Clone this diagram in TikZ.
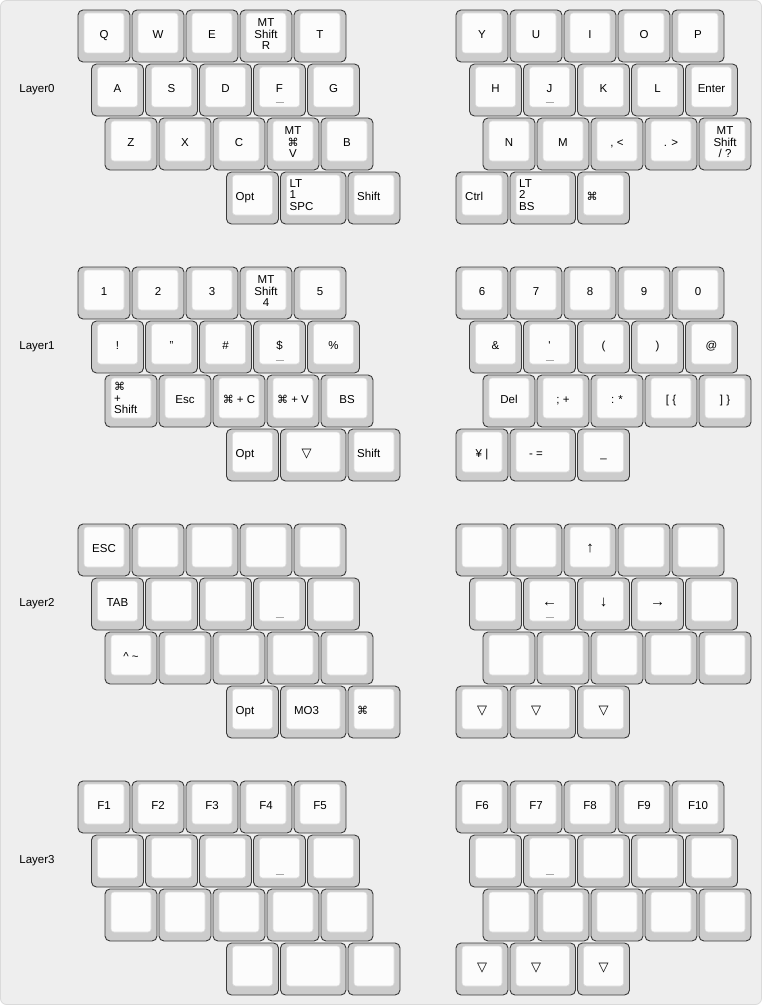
\documentclass[tikz,border=0pt]{standalone}
\usepackage{fontspec}
\setmainfont{Liberation Sans}
\newfontfamily\symfont{DejaVu Sans}
\usetikzlibrary{positioning}

\definecolor{board}{HTML}{EEEEEE}
\definecolor{boardedge}{HTML}{DADADA}
\definecolor{capside}{HTML}{CCCCCC}
\definecolor{capedge}{HTML}{3A3A3A}
\definecolor{captopfill}{HTML}{FCFCFC}
\definecolor{captopedge}{HTML}{DCDCDC}
\definecolor{nubgray}{HTML}{A8A8A8}

\newcommand\cmdkey{{\symfont\fontsize{11}{11.5}\selectfont ⌘}}
\newcommand\tri{{\symfont\fontsize{13}{11.5}\selectfont ▽}}
\newcommand\bigarrow[1]{{\fontsize{15}{11.5}\selectfont #1}}

\newcommand\keycap[4][]{%
  \node[capbody, #1] (#2) {};
  \node[#3=#2] (#2t) {#4};}
\newcommand\blankcap[2][]{%
  \node[capbody, #1] (#2) {};}

\tikzset{
  boardbg/.style={fill=board, draw=boardedge, line width=0.8pt, rounded corners=6pt},
  capbody/.style={draw=capedge, line width=0.9pt, fill=capside, rounded corners=5pt,
    minimum width=52pt, minimum height=52pt, inner sep=0pt, outer sep=0pt,
    path picture={\draw[captop] ([xshift=6pt,yshift=-3pt]path picture bounding box.north west)
      rectangle ([xshift=-6pt,yshift=9pt]path picture bounding box.south east);}},
  wider/.style={minimum width=65.5pt},
  captop/.style={draw=captopedge, line width=0.6pt, fill=captopfill, rounded corners=3pt},
  nub/.style={draw=nubgray, line width=1pt},
  lbl/.style={font=\fontsize{11.5}{11.5}\selectfont, inner sep=0pt},
  lc/.style={lbl, anchor=base, at={([xshift=26pt,yshift=-2.5pt]#1.west)}},
  lstack/.style={lbl, align=center, anchor=center, at={([xshift=26pt,yshift=1.6pt]#1.west)}},
  lside/.style={lbl, anchor=base west, at={([xshift=9pt,yshift=-2.5pt]#1.west)}},
  lcorner/.style={lbl, align=left, anchor=north west, at={([xshift=9pt,yshift=-7pt]#1.north west)}},
}

\begin{document}
\begin{tikzpicture}[x=1pt, y=-1pt]
  \useasboundingbox (0,0) rectangle (763,1006);
  \fill[white] (0,0) rectangle (763,1006);
  \draw[boardbg] (0.5,0.5) rectangle (761.5,1004.5);

  % Layer0
  \node[lbl, anchor=base] (layer0) at (37,92.5) {Layer0};
  \keycap[anchor=north west, at={(78,10)}]{L0-l00}{lc}{Q}
  \keycap[right=2pt of L0-l00]{L0-l01}{lc}{W}
  \keycap[right=2pt of L0-l01]{L0-l02}{lc}{E}
  \keycap[right=2pt of L0-l02]{L0-l03}{lstack}{MT\\Shift\\R}
  \keycap[right=2pt of L0-l03]{L0-l04}{lc}{T}
  \keycap[anchor=north west, at={(91.5,64)}]{L0-l10}{lc}{A}
  \keycap[right=2pt of L0-l10]{L0-l11}{lc}{S}
  \keycap[right=2pt of L0-l11]{L0-l12}{lc}{D}
  \keycap[right=2pt of L0-l12]{L0-l13}{lc}{F}
  \keycap[right=2pt of L0-l13]{L0-l14}{lc}{G}
  \keycap[anchor=north west, at={(105,118)}]{L0-l20}{lc}{Z}
  \keycap[right=2pt of L0-l20]{L0-l21}{lc}{X}
  \keycap[right=2pt of L0-l21]{L0-l22}{lc}{C}
  \keycap[right=2pt of L0-l22]{L0-l23}{lstack}{MT\\\cmdkey\\V}
  \keycap[right=2pt of L0-l23]{L0-l24}{lc}{B}
  \keycap[anchor=north west, at={(226.5,172)}]{L0-l30}{lside}{Opt}
  \keycap[wider, right=2pt of L0-l30]{L0-l31}{lcorner}{LT\\1\\SPC}
  \keycap[right=2pt of L0-l31]{L0-l32}{lside}{Shift}

  \keycap[anchor=north west, at={(456,10)}]{L0-r00}{lc}{Y}
  \keycap[right=2pt of L0-r00]{L0-r01}{lc}{U}
  \keycap[right=2pt of L0-r01]{L0-r02}{lc}{I}
  \keycap[right=2pt of L0-r02]{L0-r03}{lc}{O}
  \keycap[right=2pt of L0-r03]{L0-r04}{lc}{P}
  \keycap[anchor=north west, at={(469.5,64)}]{L0-r10}{lc}{H}
  \keycap[right=2pt of L0-r10]{L0-r11}{lc}{J}
  \keycap[right=2pt of L0-r11]{L0-r12}{lc}{K}
  \keycap[right=2pt of L0-r12]{L0-r13}{lc}{L}
  \keycap[right=2pt of L0-r13]{L0-r14}{lc}{Enter}
  \keycap[anchor=north west, at={(483,118)}]{L0-r20}{lc}{N}
  \keycap[right=2pt of L0-r20]{L0-r21}{lc}{M}
  \keycap[right=2pt of L0-r21]{L0-r22}{lc}{, <}
  \keycap[right=2pt of L0-r22]{L0-r23}{lc}{. >}
  \keycap[right=2pt of L0-r23]{L0-r24}{lstack}{MT\\Shift\\/ ?}
  \keycap[anchor=north west, at={(456,172)}]{L0-r30}{lside}{Ctrl}
  \keycap[wider, right=2pt of L0-r30]{L0-r31}{lcorner}{LT\\2\\BS}
  \keycap[right=2pt of L0-r31]{L0-r32}{lside}{\cmdkey}
  \draw[nub] ([xshift=-4pt,yshift=13pt]L0-l13.south) -- ++(8,0);
  \draw[nub] ([xshift=-4pt,yshift=13pt]L0-r11.south) -- ++(8,0);

  % Layer1
  \begin{scope}[shift={(0,257)}]
  \node[lbl, anchor=base] (layer1) at (37,92.5) {Layer1};
  \keycap[anchor=north west, at={(78,10)}]{L1-l00}{lc}{1}
  \keycap[right=2pt of L1-l00]{L1-l01}{lc}{2}
  \keycap[right=2pt of L1-l01]{L1-l02}{lc}{3}
  \keycap[right=2pt of L1-l02]{L1-l03}{lstack}{MT\\Shift\\4}
  \keycap[right=2pt of L1-l03]{L1-l04}{lc}{5}
  \keycap[anchor=north west, at={(91.5,64)}]{L1-l10}{lc}{!}
  \keycap[right=2pt of L1-l10]{L1-l11}{lc}{"}
  \keycap[right=2pt of L1-l11]{L1-l12}{lc}{\#}
  \keycap[right=2pt of L1-l12]{L1-l13}{lc}{\$}
  \keycap[right=2pt of L1-l13]{L1-l14}{lc}{\%}
  \keycap[anchor=north west, at={(105,118)}]{L1-l20}{lcorner}{\cmdkey\\+\\Shift}
  \keycap[right=2pt of L1-l20]{L1-l21}{lc}{Esc}
  \keycap[right=2pt of L1-l21]{L1-l22}{lc}{\cmdkey\ + C}
  \keycap[right=2pt of L1-l22]{L1-l23}{lc}{\cmdkey\ + V}
  \keycap[right=2pt of L1-l23]{L1-l24}{lc}{BS}
  \keycap[anchor=north west, at={(226.5,172)}]{L1-l30}{lside}{Opt}
  \keycap[wider, right=2pt of L1-l30]{L1-l31}{lc}{\tri}
  \keycap[right=2pt of L1-l31]{L1-l32}{lside}{Shift}

  \keycap[anchor=north west, at={(456,10)}]{L1-r00}{lc}{6}
  \keycap[right=2pt of L1-r00]{L1-r01}{lc}{7}
  \keycap[right=2pt of L1-r01]{L1-r02}{lc}{8}
  \keycap[right=2pt of L1-r02]{L1-r03}{lc}{9}
  \keycap[right=2pt of L1-r03]{L1-r04}{lc}{0}
  \keycap[anchor=north west, at={(469.5,64)}]{L1-r10}{lc}{\&}
  \keycap[right=2pt of L1-r10]{L1-r11}{lc}{\textquotesingle}
  \keycap[right=2pt of L1-r11]{L1-r12}{lc}{(}
  \keycap[right=2pt of L1-r12]{L1-r13}{lc}{)}
  \keycap[right=2pt of L1-r13]{L1-r14}{lc}{@}
  \keycap[anchor=north west, at={(483,118)}]{L1-r20}{lc}{Del}
  \keycap[right=2pt of L1-r20]{L1-r21}{lc}{; +}
  \keycap[right=2pt of L1-r21]{L1-r22}{lc}{: *}
  \keycap[right=2pt of L1-r22]{L1-r23}{lc}{[ \{}
  \keycap[right=2pt of L1-r23]{L1-r24}{lc}{] \}}
  \keycap[anchor=north west, at={(456,172)}]{L1-r30}{lc}{¥ |}
  \keycap[wider, right=2pt of L1-r30]{L1-r31}{lc}{- =}
  \keycap[right=2pt of L1-r31]{L1-r32}{lc}{\_}
  \draw[nub] ([xshift=-4pt,yshift=13pt]L1-l13.south) -- ++(8,0);
  \draw[nub] ([xshift=-4pt,yshift=13pt]L1-r11.south) -- ++(8,0);
  \end{scope}

  % Layer2
  \begin{scope}[shift={(0,514)}]
  \node[lbl, anchor=base] (layer2) at (37,92.5) {Layer2};
  \keycap[anchor=north west, at={(78,10)}]{L2-l00}{lc}{ESC}
  \blankcap[right=2pt of L2-l00]{L2-l01}
  \blankcap[right=2pt of L2-l01]{L2-l02}
  \blankcap[right=2pt of L2-l02]{L2-l03}
  \blankcap[right=2pt of L2-l03]{L2-l04}
  \keycap[anchor=north west, at={(91.5,64)}]{L2-l10}{lc}{TAB}
  \blankcap[right=2pt of L2-l10]{L2-l11}
  \blankcap[right=2pt of L2-l11]{L2-l12}
  \blankcap[right=2pt of L2-l12]{L2-l13}
  \blankcap[right=2pt of L2-l13]{L2-l14}
  \keycap[anchor=north west, at={(105,118)}]{L2-l20}{lc}{\textasciicircum\ \textasciitilde}
  \blankcap[right=2pt of L2-l20]{L2-l21}
  \blankcap[right=2pt of L2-l21]{L2-l22}
  \blankcap[right=2pt of L2-l22]{L2-l23}
  \blankcap[right=2pt of L2-l23]{L2-l24}
  \keycap[anchor=north west, at={(226.5,172)}]{L2-l30}{lside}{Opt}
  \keycap[wider, right=2pt of L2-l30]{L2-l31}{lc}{MO3}
  \keycap[right=2pt of L2-l31]{L2-l32}{lside}{\cmdkey}

  \blankcap[anchor=north west, at={(456,10)}]{L2-r00}
  \blankcap[right=2pt of L2-r00]{L2-r01}
  \keycap[right=2pt of L2-r01]{L2-r02}{lc}{\bigarrow{↑}}
  \blankcap[right=2pt of L2-r02]{L2-r03}
  \blankcap[right=2pt of L2-r03]{L2-r04}
  \blankcap[anchor=north west, at={(469.5,64)}]{L2-r10}
  \keycap[right=2pt of L2-r10]{L2-r11}{lc}{\bigarrow{←}}
  \keycap[right=2pt of L2-r11]{L2-r12}{lc}{\bigarrow{↓}}
  \keycap[right=2pt of L2-r12]{L2-r13}{lc}{\bigarrow{→}}
  \blankcap[right=2pt of L2-r13]{L2-r14}
  \blankcap[anchor=north west, at={(483,118)}]{L2-r20}
  \blankcap[right=2pt of L2-r20]{L2-r21}
  \blankcap[right=2pt of L2-r21]{L2-r22}
  \blankcap[right=2pt of L2-r22]{L2-r23}
  \blankcap[right=2pt of L2-r23]{L2-r24}
  \keycap[anchor=north west, at={(456,172)}]{L2-r30}{lc}{\tri}
  \keycap[wider, right=2pt of L2-r30]{L2-r31}{lc}{\tri}
  \keycap[right=2pt of L2-r31]{L2-r32}{lc}{\tri}
  \draw[nub] ([xshift=-4pt,yshift=13pt]L2-l13.south) -- ++(8,0);
  \draw[nub] ([xshift=-4pt,yshift=13pt]L2-r11.south) -- ++(8,0);
  \end{scope}

  % Layer3
  \begin{scope}[shift={(0,771)}]
  \node[lbl, anchor=base] (layer3) at (37,92.5) {Layer3};
  \keycap[anchor=north west, at={(78,10)}]{L3-l00}{lc}{F1}
  \keycap[right=2pt of L3-l00]{L3-l01}{lc}{F2}
  \keycap[right=2pt of L3-l01]{L3-l02}{lc}{F3}
  \keycap[right=2pt of L3-l02]{L3-l03}{lc}{F4}
  \keycap[right=2pt of L3-l03]{L3-l04}{lc}{F5}
  \blankcap[anchor=north west, at={(91.5,64)}]{L3-l10}
  \blankcap[right=2pt of L3-l10]{L3-l11}
  \blankcap[right=2pt of L3-l11]{L3-l12}
  \blankcap[right=2pt of L3-l12]{L3-l13}
  \blankcap[right=2pt of L3-l13]{L3-l14}
  \blankcap[anchor=north west, at={(105,118)}]{L3-l20}
  \blankcap[right=2pt of L3-l20]{L3-l21}
  \blankcap[right=2pt of L3-l21]{L3-l22}
  \blankcap[right=2pt of L3-l22]{L3-l23}
  \blankcap[right=2pt of L3-l23]{L3-l24}
  \blankcap[anchor=north west, at={(226.5,172)}]{L3-l30}
  \blankcap[wider, right=2pt of L3-l30]{L3-l31}
  \blankcap[right=2pt of L3-l31]{L3-l32}

  \keycap[anchor=north west, at={(456,10)}]{L3-r00}{lc}{F6}
  \keycap[right=2pt of L3-r00]{L3-r01}{lc}{F7}
  \keycap[right=2pt of L3-r01]{L3-r02}{lc}{F8}
  \keycap[right=2pt of L3-r02]{L3-r03}{lc}{F9}
  \keycap[right=2pt of L3-r03]{L3-r04}{lc}{F10}
  \blankcap[anchor=north west, at={(469.5,64)}]{L3-r10}
  \blankcap[right=2pt of L3-r10]{L3-r11}
  \blankcap[right=2pt of L3-r11]{L3-r12}
  \blankcap[right=2pt of L3-r12]{L3-r13}
  \blankcap[right=2pt of L3-r13]{L3-r14}
  \blankcap[anchor=north west, at={(483,118)}]{L3-r20}
  \blankcap[right=2pt of L3-r20]{L3-r21}
  \blankcap[right=2pt of L3-r21]{L3-r22}
  \blankcap[right=2pt of L3-r22]{L3-r23}
  \blankcap[right=2pt of L3-r23]{L3-r24}
  \keycap[anchor=north west, at={(456,172)}]{L3-r30}{lc}{\tri}
  \keycap[wider, right=2pt of L3-r30]{L3-r31}{lc}{\tri}
  \keycap[right=2pt of L3-r31]{L3-r32}{lc}{\tri}
  \draw[nub] ([xshift=-4pt,yshift=13pt]L3-l13.south) -- ++(8,0);
  \draw[nub] ([xshift=-4pt,yshift=13pt]L3-r11.south) -- ++(8,0);
  \end{scope}
\end{tikzpicture}
\end{document}
